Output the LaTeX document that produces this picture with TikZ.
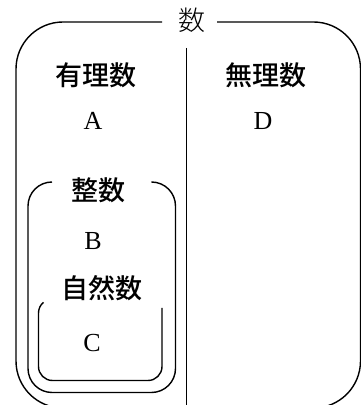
\documentclass[tikz,border=0pt]{standalone}
\usepackage{fontspec}
\setmainfont{Liberation Serif}
\newfontfamily\cjk{Noto Sans CJK JP Medium}
\newfontfamily\cjklight{Noto Sans CJK JP Light}
\tikzset{
  boxline/.style={line width=1.4pt, black},
  jlabel/.style={font=\cjk\fontsize{27}{30}\selectfont, inner sep=0pt},
  jtitle/.style={font=\cjklight\fontsize{27}{30}\selectfont, inner sep=0pt},
  letter/.style={font=\fontsize{26}{30}\selectfont, inner sep=0pt},
}
\begin{document}
\begin{tikzpicture}[x=1pt,y=1pt]
\useasboundingbox (0,0) rectangle (361,405);
\clip (0,0) rectangle (361,405);
% outer box (numbers)
\draw[boxline, rounded corners=47pt] (162,383) -- (16,383) -- (16,-3) -- (360.5,-3) -- (360.5,383) -- (217,383);
\node[jtitle] (num) at (192,385) {数};
% divider
\coordinate (dtop) at (186.5,357);
\coordinate (dbot) at (186.5,-3);
\draw[boxline] (dtop) -- (dbot);
% rational / irrational
\node[jlabel] (rat) at (96,330) {有理数};
\node[letter] (A) at (93,284) {A};
\node[jlabel] (irr) at (266,330) {無理数};
\node[letter] (D) at (263,284) {D};
% integers box
\draw[boxline, rounded corners=24pt] (52,223) -- (28,223) -- (28,12.5) -- (175.5,12.5) -- (175.5,223) -- (152,223);
\node[jlabel] (int) at (98,215) {整数};
\node[letter] (B) at (93,164) {B};
% natural numbers box
\draw[boxline] (162,97) -- (162,38.5) arc[start angle=0,end angle=-90,radius=14] -- (52.5,24.5) arc[start angle=270,end angle=180,radius=14] -- (38.5,92) arc[start angle=180,end angle=130,radius=14];
\node[jlabel] (nat) at (102,117) {自然数};
\node[letter] (C) at (92,62) {C};
\end{tikzpicture}
\end{document}
